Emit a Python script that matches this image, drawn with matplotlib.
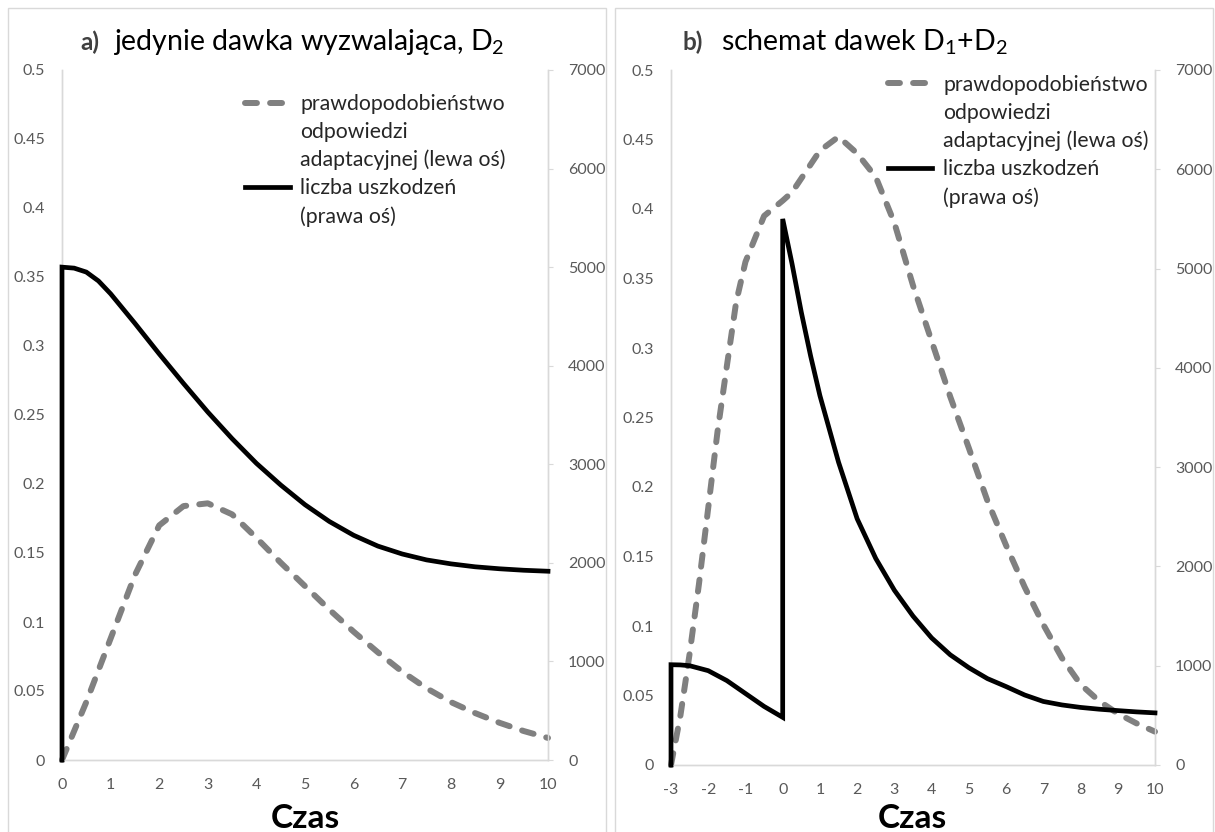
import numpy as np
import matplotlib
matplotlib.use("Agg")
import matplotlib.pyplot as plt
from matplotlib.lines import Line2D
from matplotlib.patches import Rectangle
from matplotlib.ticker import FuncFormatter

# panel a) - only the triggering dose D2
time_a = [0, 0, 0.25, 0.5, 0.75, 1, 1.5, 2, 2.5, 3, 3.5, 4, 4.5, 5, 5.5, 6,
          6.5, 7, 7.5, 8, 8.5, 9, 9.5, 10]
damage_a = [0, 5000, 4990, 4950, 4860, 4730, 4430, 4120, 3820, 3530, 3260,
            3010, 2790, 2590, 2420, 2280, 2170, 2090, 2030, 1990, 1960, 1940,
            1925, 1915]
prob_time_a = [0, 0.5, 1, 1.5, 2, 2.5, 3, 3.5, 4, 4.5, 5, 5.5, 6, 6.5, 7,
               7.5, 8, 8.5, 9, 9.5, 10]
prob_a = [0, 0.042, 0.088, 0.134, 0.170, 0.184, 0.186, 0.178, 0.161, 0.143,
          0.126, 0.109, 0.093, 0.078, 0.064, 0.052, 0.042, 0.034, 0.027,
          0.021, 0.016]

# panel b) - dose scheme D1+D2
time_b = [-3, -3, -2.75, -2.5, -2, -1.5, -1, -0.5, 0, 0, 0.25, 0.5, 0.75, 1,
          1.5, 2, 2.5, 3, 3.5, 4, 4.5, 5, 5.5, 6, 6.5, 7, 7.5, 8, 8.5, 9,
          9.5, 10]
damage_b = [0, 1010, 1008, 1000, 950, 850, 720, 590, 480, 5500, 5050, 4560,
            4120, 3720, 3050, 2480, 2080, 1760, 1500, 1280, 1110, 980, 870,
            790, 705, 640, 605, 580, 562, 548, 535, 525]
prob_time_b = [-3, -2.75, -2.5, -2.25, -2, -1.75, -1.5, -1.25, -1, -0.5, 0,
               0.25, 0.5, 1, 1.5, 2, 2.5, 3, 3.5, 4, 4.5, 5, 5.5, 6, 6.5, 7,
               7.5, 8, 8.5, 9, 9.5, 10]
prob_b = [0, 0.035, 0.08, 0.13, 0.185, 0.24, 0.287, 0.333, 0.362, 0.395,
          0.406, 0.412, 0.422, 0.442, 0.452, 0.44, 0.423, 0.39, 0.345, 0.305,
          0.265, 0.228, 0.19, 0.158, 0.128, 0.101, 0.077, 0.058, 0.046,
          0.037, 0.030, 0.024]

left_ticks = [0, 0.05, 0.1, 0.15, 0.2, 0.25, 0.3, 0.35, 0.4, 0.45, 0.5]
right_ticks = [0, 1000, 2000, 3000, 4000, 5000, 6000, 7000]

prob_label = ["prawdopodobieństwo", "odpowiedzi", "adaptacyjnej (lewa oś)"]
damage_label = ["liczba uszkodzeń", "(prawa oś)"]

W, H = 1215, 832
GRID = "#d9d9d9"
TICK_TXT = "#595959"
GREY = "#808080"
DASH = (2.0, 2.2)


def px(x0, y0, x1, y1):
    """pixel box (top-left origin) -> figure fraction rect"""
    return [x0 / W, 1 - y1 / H, (x1 - x0) / W, (y1 - y0) / H]


def draw_panel(fig, rect, t_dmg, dmg, t_prob, prob, xticks, legend_xy):
    ax = fig.add_axes(rect)
    ax2 = ax.twinx()

    ax.plot(t_prob, prob, color=GREY, lw=4.3, dashes=DASH,
            dash_capstyle="round", clip_on=False, zorder=3)
    ax2.plot(t_dmg, dmg, color="black", lw=3.4, solid_joinstyle="miter",
             clip_on=False, zorder=3)

    ax.set_xlim(xticks[0], xticks[-1])
    ax.set_ylim(0, 0.5)
    ax2.set_ylim(0, 7000)
    ax.set_xticks(xticks)
    ax.set_yticks(left_ticks)
    ax2.set_yticks(right_ticks)
    ax.yaxis.set_major_formatter(FuncFormatter(lambda v, p: "%g" % v))

    for a in (ax, ax2):
        for s in a.spines.values():
            s.set_color(GRID)
            s.set_linewidth(1)
            s.set_zorder(1)
        a.spines["top"].set_visible(False)
    ax.tick_params(axis="y", length=0, pad=12, labelsize=11.5,
                   labelcolor=TICK_TXT)
    ax.tick_params(axis="x", length=0, pad=13, labelsize=11.5,
                   labelcolor=TICK_TXT)
    ax2.tick_params(axis="y", length=3.5, color=GRID, pad=11, labelsize=11.5,
                    labelcolor=TICK_TXT)

    handles = [
        Line2D([], [], color=GREY, lw=4.3, dashes=DASH,
               dash_capstyle="round"),
        Line2D([], [], color="none"),
        Line2D([], [], color="none"),
        Line2D([], [], color="black", lw=3.4),
        Line2D([], [], color="none"),
    ]
    ax2.legend(handles, prob_label + damage_label, loc="upper left",
               bbox_to_anchor=legend_xy, frameon=False, borderpad=0,
               borderaxespad=0, handlelength=2.1, handletextpad=0.5,
               labelspacing=0.37, fontsize=15.3, labelcolor="#262626")
    return ax


def main():
    plt.rcParams["font.family"] = ["Lato", "DejaVu Sans"]
    plt.rcParams["mathtext.fontset"] = "custom"
    plt.rcParams["mathtext.rm"] = "Lato"
    plt.rcParams["axes.unicode_minus"] = False

    fig = plt.figure(figsize=(W / 100, H / 100), dpi=100)

    # chart-area borders
    fig.patches.append(Rectangle((8 / W, -0.01), 598 / W, 1.0 - 8 / H + 0.01,
                                 transform=fig.transFigure, fill=False,
                                 edgecolor=GRID, lw=1))
    fig.patches.append(Rectangle((615 / W, -0.01), 598 / W, 1.0 - 8 / H + 0.01,
                                 transform=fig.transFigure, fill=False,
                                 edgecolor=GRID, lw=1))

    draw_panel(fig, px(62, 70, 548, 760), time_a, damage_a, prob_time_a,
               prob_a, list(range(0, 11)), (0.377, 0.965))
    draw_panel(fig, px(671, 70, 1155, 765), time_b, damage_b, prob_time_b,
               prob_b, list(range(-3, 11)), (0.448, 0.993))

    # titles
    fig.text(80 / W, 1 - 50 / H, "a)", fontsize=17.5, fontweight="bold",
             color="#404040", va="baseline")
    fig.text(113 / W, 1 - 50 / H, r"jedynie dawka wyzwalająca, D$_\mathregular{2}$",
             fontsize=20.5, color="black", va="baseline")
    fig.text(683 / W, 1 - 50 / H, "b)", fontsize=17.5, fontweight="bold",
             color="#404040", va="baseline")
    fig.text(721 / W, 1 - 50 / H,
             r"schemat dawek D$_\mathregular{1}$+D$_\mathregular{2}$",
             fontsize=20.5, color="black", va="baseline")

    # x axis labels
    fig.text(305 / W, 1 - 828 / H, "Czas", fontsize=24, fontweight="bold",
             ha="center", va="baseline")
    fig.text(912 / W, 1 - 828 / H, "Czas", fontsize=24, fontweight="bold",
             ha="center", va="baseline")

    fig.savefig("out.png", dpi=100)


if __name__ == "__main__":
    main()
